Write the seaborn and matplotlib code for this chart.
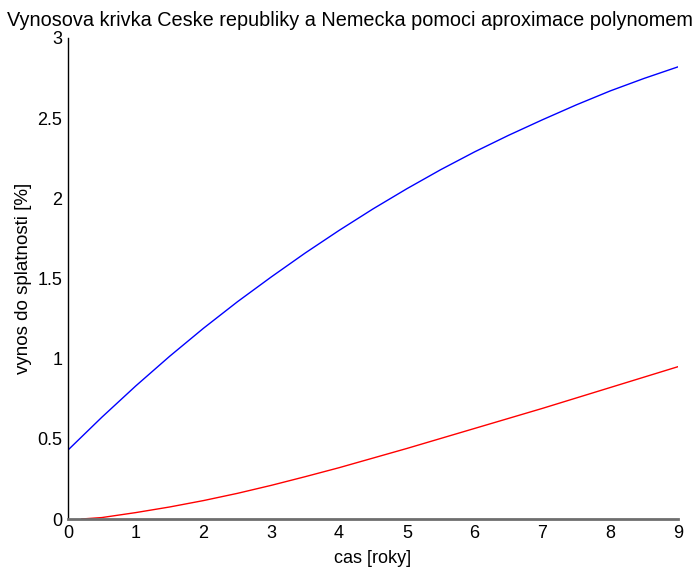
import matplotlib
matplotlib.use("Agg")
import matplotlib.pyplot as plt
import seaborn as sns
import pandas as pd

# data
x_cz = [0, 0.5, 1, 1.5, 2, 2.5, 3, 3.5, 4, 4.5, 5, 5.5, 6, 6.5, 7, 7.5, 8, 8.5, 9]
y_cz = [0.43, 0.635, 0.83, 1.015, 1.19, 1.355, 1.51, 1.659, 1.80, 1.934, 2.06, 2.179,
        2.29, 2.393, 2.49, 2.583, 2.67, 2.748, 2.82]
x_de = [0.2, 0.5, 1, 1.5, 2, 2.5, 3, 3.5, 4, 4.5, 5, 5.5, 6, 6.5, 7, 7.5, 8, 8.5, 9]
y_de = [0.0, 0.009, 0.04, 0.075, 0.115, 0.16, 0.21, 0.264, 0.32, 0.38, 0.44, 0.5025,
        0.565, 0.6275, 0.69, 0.755, 0.82, 0.885, 0.95]
x_ticks = [0, 1, 2, 3, 4, 5, 6, 7, 8, 9]
y_ticks = [0, 0.5, 1, 1.5, 2, 2.5, 3]
y_ticklabels = ["0", "0.5", "1", "1.5", "2", "2.5", "3"]

df = pd.concat([
    pd.DataFrame({"x": x_cz, "y": y_cz, "s": "CZ"}),
    pd.DataFrame({"x": x_de, "y": y_de, "s": "DE"}),
])

sns.set_style("white")
plt.rcParams["font.family"] = ["Liberation Sans", "DejaVu Sans"]
plt.rcParams["text.color"] = "black"
plt.rcParams["axes.labelcolor"] = "black"

fig = plt.figure(figsize=(6.99, 5.69), dpi=100)
ax = fig.add_axes([68/699, 1-519/569, 610/699, (519-38)/569])
sns.lineplot(data=df, x="x", y="y", hue="s", palette={"CZ": "#0000ff", "DE": "#ff0000"},
             ax=ax, legend=False, linewidth=1.0, sort=False)
ax.set_xlim(0, 9)
ax.set_ylim(0, 3)
ax.set_xticks(x_ticks)
ax.set_xticklabels([str(v) for v in x_ticks])
ax.set_yticks(y_ticks)
ax.set_yticklabels(y_ticklabels)
ax.tick_params(direction="in", length=5, width=1, labelsize=13, colors="black", pad=4)
ax.tick_params(axis="x", color="#404040")
for s in ["top", "right"]:
    ax.spines[s].set_visible(False)
ax.spines["left"].set_color("black")
ax.spines["left"].set_linewidth(1.0)
ax.spines["bottom"].set_color("#6e6e6e")
ax.spines["bottom"].set_linewidth(2.0)
ax.set_xlabel("cas [roky]", fontsize=13, labelpad=6, color="black")
ax.set_ylabel("vynos do splatnosti [%]", fontsize=13.5, labelpad=4, color="black")
fig.text(350/699, 1-20/569,
         "Vynosova krivka Ceske republiky a Nemecka pomoci aproximace polynomem",
         fontsize=14.3, ha="center", va="center", color="black")
fig.savefig("out.png", dpi=100)
